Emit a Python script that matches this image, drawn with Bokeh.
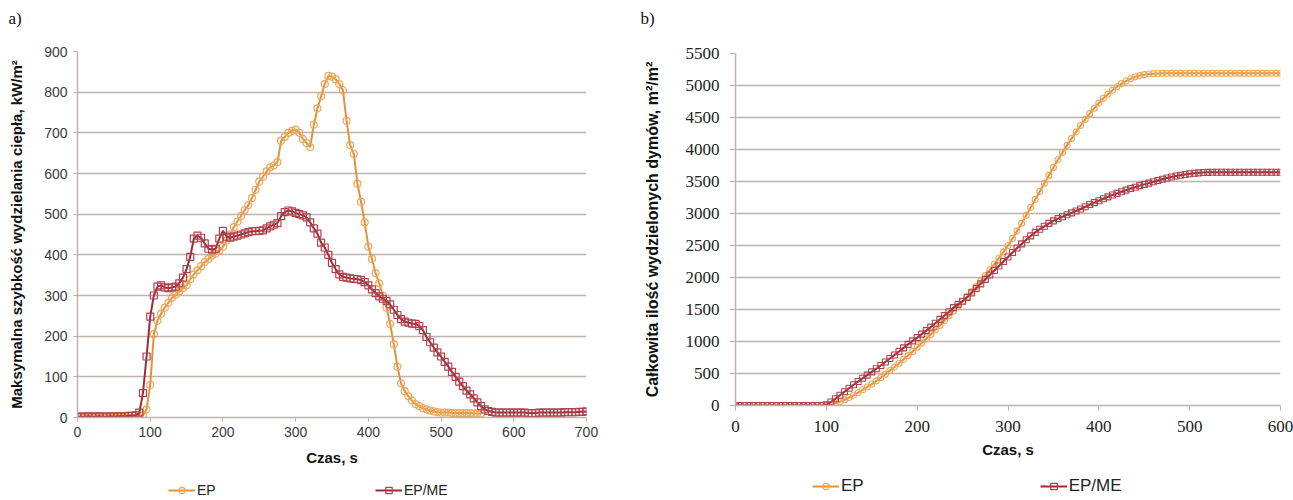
from bokeh.plotting import figure
from bokeh.layouts import row, column
from bokeh.models import Legend, LegendItem, FixedTicker, Label
from bokeh.embed import file_html
from bokeh.resources import INLINE

# ---------------- data: panel a (heat release rate, kW/m2), step 5 s ----------------
ep_a = [0]*17 + [
    1, 5, 20, 80, 205, 238, 255, 270, 282, 295, 302, 310, 318, 325, 340, 352, 362, 372, 382, 390,
    398, 403, 410, 420, 435, 450, 468, 482, 496, 510, 522, 540, 560, 580, 592, 605, 615, 620, 628, 680,
    690, 700, 705, 708, 700, 685, 675, 665, 720, 760, 790, 820, 840, 838, 832, 820, 805, 730, 670, 648,
    575, 530, 480, 420, 390, 355, 330, 300, 270, 230, 180, 125, 84, 65, 52, 42, 33, 28, 23, 20,
    17, 15, 13, 12, 12, 12, 11, 11, 11, 11, 11, 11, 10, 10, 10]
epme_a = [2, 2, 2, 3, 2, 2, 3, 2, 2, 3, 2, 3, 3, 3, 4, 4, 5] + [
    12, 60, 150, 248, 300, 322, 325, 320, 318, 320, 322, 330, 344, 365, 395, 440, 447, 442, 428, 415,
    413, 415, 440, 459, 445, 442, 445, 447, 450, 453, 456, 458, 458, 459, 460, 465, 470, 474, 478, 495,
    505, 509, 507, 503, 500, 497, 492, 480, 465, 452, 430, 418, 400, 380, 365, 352, 346, 344, 342, 341,
    340, 338, 333, 325, 315, 306, 298, 292, 287, 278, 265, 252, 242, 236, 233, 231, 230, 225, 215, 198,
    185, 172, 160, 150, 137, 125, 112, 100, 88, 77, 66, 57, 47, 37, 28, 20, 16, 14, 12, 12,
    12, 12, 12, 12, 12, 12, 12, 11, 11, 11, 12, 12, 12, 12, 12, 12, 12, 13, 13, 13, 13, 14, 14, 15]

# ---------------- data: panel b (total smoke release, m2/m2), step 5 s ----------------
ep_b = [0]*21 + [
    10, 35, 60, 90, 125, 160, 200, 245, 290, 335, 385, 435, 490, 545, 600, 660, 720, 780, 845, 910,
    975, 1040, 1110, 1180, 1250, 1325, 1400, 1475, 1550, 1625, 1700, 1780, 1860, 1945, 2030, 2120, 2210, 2305, 2400, 2500,
    2610, 2725, 2845, 2970, 3095, 3220, 3345, 3470, 3595, 3720, 3840, 3955, 4065, 4170, 4275, 4375, 4470, 4560, 4645, 4725,
    4800, 4865, 4925, 4980, 5030, 5070, 5105, 5135, 5155, 5170, 5180, 5185, 5188] + [5190]*27
epme_b = [0]*20 + [
    10, 55, 105, 160, 215, 270, 325, 375, 425, 475, 525, 575, 625, 680, 735, 790, 845, 900, 955, 1010,
    1060, 1115, 1170, 1225, 1285, 1345, 1405, 1465, 1530, 1580, 1630, 1690, 1760, 1830, 1900, 1970, 2040, 2110, 2180, 2250,
    2320, 2390, 2460, 2525, 2590, 2650, 2705, 2755, 2800, 2845, 2885, 2920, 2950, 2980, 3010, 3040, 3070, 3105, 3140, 3170,
    3200, 3230, 3260, 3290, 3315, 3340, 3365, 3390, 3410, 3435, 3455, 3475, 3495, 3515, 3535, 3555, 3570, 3585, 3598, 3610,
    3620, 3628, 3635, 3640, 3643] + [3645]*16

t_ep_a = [5*i for i in range(len(ep_a))]
t_epme_a = [5*i for i in range(len(epme_a))]
t_ep_b = [5*i for i in range(len(ep_b))]
t_epme_b = [5*i for i in range(len(epme_b))]

series_labels = ["EP", "EP/ME"]
panel_labels = ["a)", "b)"]
xticks_a = [0, 100, 200, 300, 400, 500, 600, 700]
yticks_a = [0, 100, 200, 300, 400, 500, 600, 700, 800, 900]
xticks_b = [0, 100, 200, 300, 400, 500, 600]
yticks_b = [0, 500, 1000, 1500, 2000, 2500, 3000, 3500, 4000, 4500, 5000, 5500]

EP_LINE = "#E3923A"
EP_MARK = "#EDA75A"
ME_LINE = "#9E2A36"
ME_MARK = "#B0424E"
GRID = "#BDB3AF"
SANS = "Liberation Sans"
SERIF = "Liberation Serif"
W_A, W_B = 612, 681
H_TOP, H_PLOT, H_BOT = 35, 435, 30


def style_axes(p, tick_font, tick_size, tick_color):
    for ax in (p.xaxis[0], p.yaxis[0]):
        ax.axis_line_color = GRID
        ax.axis_line_width = 1.5
        ax.major_tick_line_color = GRID
        ax.major_tick_in = 0
        ax.minor_tick_line_color = None
        ax.major_label_text_font = tick_font
        ax.major_label_text_font_size = tick_size
        ax.major_label_text_color = tick_color
        ax.axis_label_text_font = SANS
        ax.axis_label_text_font_style = "bold"
        ax.axis_label_text_color = "#111111"
    p.xgrid.grid_line_color = None
    p.ygrid.grid_line_color = GRID
    p.ygrid.grid_line_width = 1.5
    p.outline_line_color = None


def blank(width, height, yr):
    f = figure(width=width, height=height, x_range=(0, width), y_range=yr,
               output_backend="svg", toolbar_location=None,
               x_axis_type=None, y_axis_type=None,
               min_border_left=0, min_border_right=0, min_border_top=0, min_border_bottom=0)
    f.xgrid.grid_line_color = None
    f.ygrid.grid_line_color = None
    f.outline_line_color = None
    return f


# ---------------- header with panel letters ----------------
head = blank(W_A + W_B, H_TOP, (H_TOP, 0))
for xpos, lab in zip([8, 640], panel_labels):
    head.add_layout(Label(x=xpos, y=18, text=lab, text_font=SERIF, text_font_size="17px",
                          text_baseline="middle", text_align="left", text_color="#111111"))

# ---------------- panel a ----------------
pa = figure(width=W_A, height=H_PLOT, x_range=(0, 700), y_range=(0, 900),
            output_backend="svg", toolbar_location=None,
            min_border_left=77, min_border_right=W_A - 586, min_border_top=16, min_border_bottom=53)
style_axes(pa, SANS, "14px", "#3A3A3A")
pa.xaxis.ticker = FixedTicker(ticks=xticks_a)
pa.yaxis.ticker = FixedTicker(ticks=yticks_a)
pa.xaxis.major_tick_out = 4
pa.yaxis.major_tick_out = 4
pa.xaxis.major_label_standoff = 5
pa.yaxis.major_label_standoff = 6
pa.xaxis.axis_label = "Czas, s"
pa.yaxis.axis_label = "Maksymalna szybkość wydzielania ciepła, kW/m²"
pa.xaxis.axis_label_text_font_size = "15px"
pa.yaxis.axis_label_text_font_size = "15px"
pa.xaxis.axis_label_standoff = 9
pa.yaxis.axis_label_standoff = 16

la1 = pa.line(t_ep_a, ep_a, line_color=EP_LINE, line_width=2)
sa1 = pa.scatter(t_ep_a, ep_a, marker="circle", size=7, line_color=EP_MARK, line_width=1.2, fill_alpha=0)
la2 = pa.line(t_epme_a, epme_a, line_color=ME_LINE, line_width=2)
sa2 = pa.scatter(t_epme_a, epme_a, marker="square", size=7, line_color=ME_MARK, line_width=1.2, fill_alpha=0)

# ---------------- panel b ----------------
pb = figure(width=W_B, height=H_PLOT, x_range=(0, 600), y_range=(0, 5500),
            output_backend="svg", toolbar_location=None,
            min_border_left=735 - W_A, min_border_right=W_A + W_B - 1280, min_border_top=18, min_border_bottom=65)
style_axes(pb, SERIF, "17px", "#222222")
pb.xaxis.ticker = FixedTicker(ticks=xticks_b)
pb.yaxis.ticker = FixedTicker(ticks=yticks_b)
pb.xaxis.major_tick_out = 5
pb.yaxis.major_tick_out = 6
pb.xaxis.major_label_standoff = 10
pb.yaxis.major_label_standoff = 10
pb.xaxis.axis_label = "Czas, s"
pb.yaxis.axis_label = "Całkowita ilość wydzielonych dymów, m²/m²"
pb.xaxis.axis_label_text_font_size = "15px"
pb.yaxis.axis_label_text_font_size = "16px"
pb.xaxis.axis_label_standoff = 6
pb.yaxis.axis_label_standoff = 22

lb1 = pb.line(t_ep_b, ep_b, line_color=EP_LINE, line_width=2)
sb1 = pb.scatter(t_ep_b, ep_b, marker="circle", size=6, line_color=EP_MARK, line_width=1.1, fill_alpha=0)
lb2 = pb.line(t_epme_b, epme_b, line_color=ME_LINE, line_width=2)
sb2 = pb.scatter(t_epme_b, epme_b, marker="square", size=6, line_color=ME_MARK, line_width=1.1, fill_alpha=0)

# ---------------- footer with the two legends ----------------
# legend proxies: the series themselves, drawn in a y-window that no data value reaches
foot = blank(W_A + W_B, H_BOT, (-60, -30))
g_ep_l = foot.line(t_ep_a, ep_a, line_color=EP_LINE, line_width=2)
g_ep_s = foot.scatter(t_ep_a, ep_a, marker="circle", size=8, line_color=EP_MARK, line_width=1.2, fill_alpha=0)
g_me_l = foot.line(t_epme_a, epme_a, line_color=ME_LINE, line_width=2)
g_me_s = foot.scatter(t_epme_a, epme_a, marker="square", size=8, line_color=ME_MARK, line_width=1.2, fill_alpha=0)


def make_legend(loc, spacing, fsize):
    return Legend(items=[LegendItem(label=series_labels[0], renderers=[g_ep_l, g_ep_s]),
                         LegendItem(label=series_labels[1], renderers=[g_me_l, g_me_s])],
                  orientation="horizontal", location=loc, spacing=spacing,
                  glyph_width=27, glyph_height=16, label_standoff=2, padding=0, margin=0,
                  label_height=16,
                  border_line_color=None, background_fill_alpha=0,
                  label_text_font=SANS, label_text_font_size=fsize, label_text_color="#222222")


foot.add_layout(make_legend((168, 2), 158, "14px"))
foot.add_layout(make_legend((812, 4), 176, "17px"))

layout = column(head, row(column(pa), column(pb)), foot)
open("out.html", "w").write(file_html(layout, INLINE))
